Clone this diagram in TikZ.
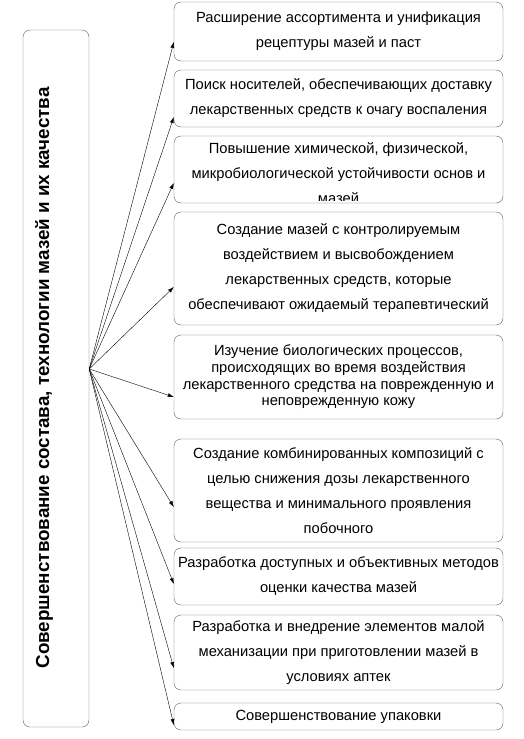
\documentclass[tikz,border=0pt]{standalone}
\usepackage{fontspec}
\setmainfont{Liberation Sans}
\usepackage{tikz}
\usetikzlibrary{arrows.meta,positioning}
\definecolor{mframe}{RGB}{95,95,95}

\begin{document}
\begin{tikzpicture}[
  x=1pt,y=-1pt,
  box/.style={draw=mframe,rounded corners=7pt,minimum width=329pt,align=center,inner sep=2pt},
  wide/.style={font=\fontsize{14.7}{25}\selectfont},
  tight/.style={font=\fontsize{14.7}{16.7}\selectfont},
  flow/.style={-{Latex[length=6pt,width=4pt]},thin}
]
\useasboundingbox (0,0) rectangle (523,739);
% central box
\node[box,minimum width=66pt,minimum height=697pt] (src) at (56,378.5) {};
\node[rotate=90,font=\fontsize{18.8}{20}\selectfont\bfseries] (srctxt) at (44,378) {Совершенствование состава, технологии мазей и их качества};
\coordinate (hub) at ([yshift=9.5pt]src.east);
% directions
\node[box,wide,minimum height=59pt] (b1) at (338.5,31.5) {Расширение ассортимента и унификация\\рецептуры мазей и паст};
\node[box,wide,minimum height=57pt] (b2) at (338.5,98.5) {Поиск носителей, обеспечивающих доставку\\лекарственных средств к очагу воспаления};
\node[box,minimum height=67pt] (b3) at (338.5,169.5) {};
\begin{scope}
  \clip ([yshift=3pt]b3.south west) rectangle (b3.north east);
  \node[wide,align=center] (t3) at ([yshift=-3.5pt]b3.center) {Повышение химической, физической,\\микробиологической устойчивости основ и\\мазей};
\end{scope}
\node[box,wide,minimum height=113pt] (b4) at (338.5,268.5) {Создание мазей с контролируемым\\воздействием и высвобождением\\лекарственных средств, которые\\обеспечивают ожидаемый терапевтический};
\node[box,tight,minimum height=84pt] (b5) at (338.5,377) {Изучение биологических процессов,\\происходящих во время воздействия\\лекарственного средства на поврежденную и\\неповрежденную кожу};
\node[box,wide,minimum height=103pt] (b6) at (338.5,490.5) {Создание комбинированных композиций с\\целью снижения дозы лекарственного\\вещества и минимального проявления\\побочного};
\node[box,wide,minimum height=57pt] (b7) at (338.5,576.5) {Разработка доступных и объективных методов\\оценки качества мазей};
\node[box,wide,minimum height=75pt] (b8) at (338.5,652.5) {Разработка и внедрение элементов малой\\механизации при приготовлении мазей в\\условиях аптек};
\node[box,wide,minimum height=27pt] (b9) at (338.5,716.5) {Совершенствование упаковки};
% fan of arrows
\foreach \b/\dy in {b1/-10.5,b2/-18.5,b3/-13.5,b4/-18.5,b5/-20,b6/-16.5,b7/-7.5,b8/-15.5,b9/-8.5}
  \draw[flow] (hub) -- ([yshift=\dy pt]\b.west);
\end{tikzpicture}
\end{document}
